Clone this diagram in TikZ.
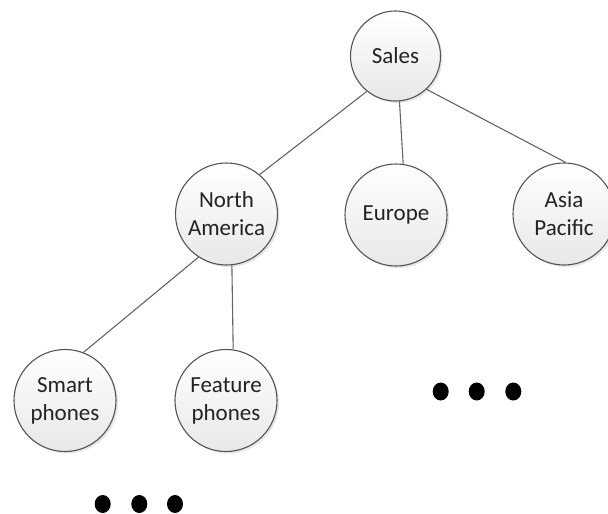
\documentclass[tikz,border=0pt]{standalone}
\usepackage{fontspec}
\setmainfont{Carlito}
\usetikzlibrary{shadows,shapes.geometric}
\definecolor{rim}{RGB}{85,85,85}
\definecolor{wire}{RGB}{100,100,100}
\definecolor{ink}{RGB}{35,35,35}
\tikzset{
  unit/.style={circle, draw=rim, line width=1.1pt, inner sep=0pt,
    top color=white, bottom color=black!9,
    drop shadow={shadow xshift=2pt, shadow yshift=-2pt, fill=black, opacity=0.10},
    font=\fontsize{23}{28}\selectfont, text=ink, align=center,
    minimum size=102pt},
  top unit/.style={unit, minimum size=90pt},
  link/.style={draw=wire, line width=1.1pt},
  more/.style={ellipse, fill=black, inner sep=0pt, minimum width=16pt, minimum height=18pt}
}
\begin{document}
\begin{tikzpicture}[x=1pt, y=-1pt]
  \useasboundingbox (0,0) rectangle (608,514);

  % hierarchy nodes
  \node[top unit] (sales)  at (395.5,56)  {Sales};
  \node[unit]     (na)     at (226.5,214) {North\\America};
  \node[unit]     (europe) at (396,215)   {Europe};
  \node[unit]     (ap)     at (564,214)   {Asia\\Pacific};
  \node[unit]     (smart)  at (65,400.5)  {Smart\\phones};
  \node[unit]     (feat)   at (226,400.5) {Feature\\phones};

  % connectors between parent and child circles
  \draw[link] (sales.231) -- (na.50);
  \draw[link] (sales.275) -- (europe.82);
  \draw[link] (sales.313) -- (ap.88);
  \draw[link] (na.237) -- (smart.69);
  \draw[link] (na.276) -- (feat.82);

  % continuation marks
  \node[more] (m1) at (440.7,391.5) {};
  \node[more] (m2) at (476.7,391.5) {};
  \node[more] (m3) at (513.3,391.5) {};
  \node[more] (n1) at (102.7,504) {};
  \node[more] (n2) at (139.3,504) {};
  \node[more] (n3) at (175,504) {};
\end{tikzpicture}
\end{document}
